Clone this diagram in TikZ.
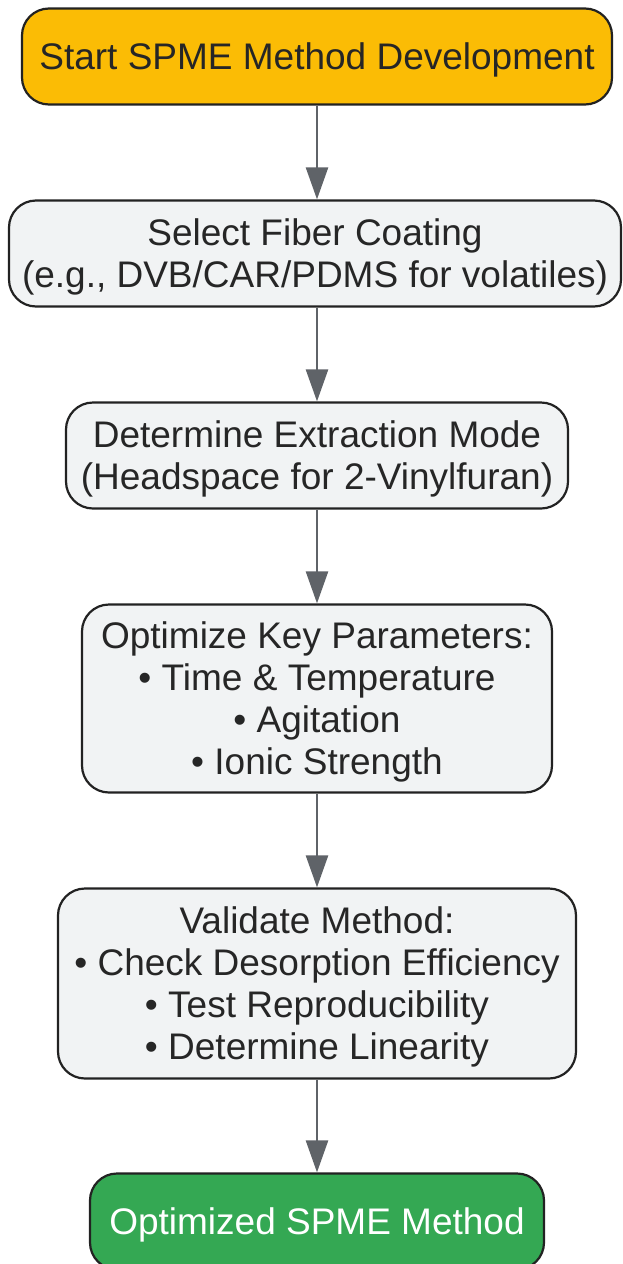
\documentclass[tikz,border=0pt]{standalone}
\usepackage{fontspec}
\setmainfont{Liberation Sans}
\usetikzlibrary{arrows.meta}
\definecolor{startc}{HTML}{FBBC05}
\definecolor{stepc}{HTML}{F1F3F4}
\definecolor{endc}{HTML}{34A853}
\definecolor{edgec}{HTML}{5F6368}
\definecolor{borderc}{HTML}{222222}
\tikzset{
  box/.style={draw=borderc, line width=2.2pt, rounded corners=27pt, inner sep=0pt,
    align=center, font=\fontsize{37pt}{42pt}\selectfont, text=black!85, text depth=-1.5pt},
  flow/.style={draw=edgec, line width=2.5pt, -{Triangle[width=22pt,length=32pt]}}
}
\begin{document}
\begin{tikzpicture}[x=1pt,y=-1pt]
\useasboundingbox (0,0) rectangle (622,1264);
\begin{scope}
\clip (0,0) rectangle (622,1264);
\node[box, fill=startc, minimum width=590pt, minimum height=96pt] (s) at (317,56.5) {Start SPME Method Development};
\node[box, fill=stepc, minimum width=612pt, minimum height=106pt] (a) at (315,253.5) {Select Fiber Coating\\(e.g., DVB/CAR/PDMS for volatiles)};
\node[box, fill=stepc, minimum width=502pt, minimum height=106pt] (b) at (317,455.5) {Determine Extraction Mode\\(Headspace for 2-Vinylfuran)};
\node[box, fill=stepc, minimum width=470pt, minimum height=188pt] (c) at (317,698.5) {Optimize Key Parameters:\\• Time \& Temperature\\• Agitation\\• Ionic Strength};
\node[box, fill=stepc, minimum width=518pt, minimum height=190pt] (d) at (317,983.5) {Validate Method:\\• Check Desorption Efficiency\\• Test Reproducibility\\• Determine Linearity};
\node[box, fill=endc, text=white, minimum width=454pt, minimum height=96pt] (e) at (317,1221.5) {Optimized SPME Method};
\end{scope}
\draw[flow] (s.south -| 317,0) -- (a.north -| 317,0);
\draw[flow] (a.south -| 317,0) -- (b.north);
\draw[flow] (b.south) -- (c.north);
\draw[flow] (c.south) -- (d.north);
\draw[flow] (d.south) -- (e.north);
\end{tikzpicture}
\end{document}
